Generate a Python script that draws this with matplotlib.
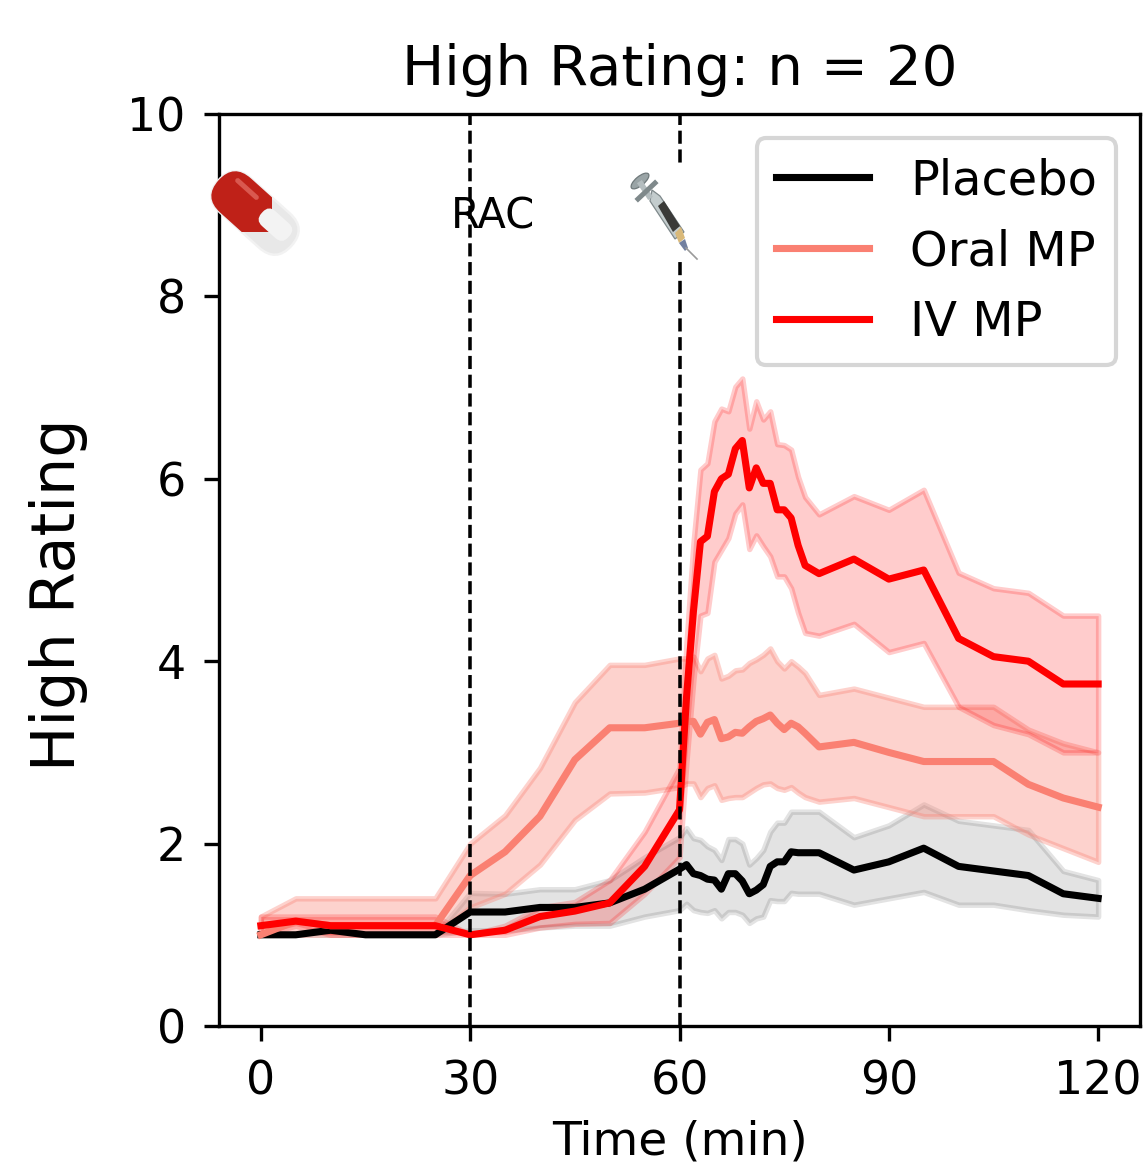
import numpy as np
import matplotlib
matplotlib.use('Agg')
import matplotlib.pyplot as plt
from matplotlib.patches import FancyBboxPatch, Rectangle, Polygon, Ellipse
from matplotlib.transforms import Affine2D

# time points (dense sampling after the IV dose)
time = [0, 5, 10, 15, 20, 25, 30, 35, 40, 45, 50, 55, 60,
        61, 62, 63, 64, 65, 66, 67, 68, 69, 70, 71, 72, 73, 74, 75, 76, 77, 78,
        80, 85, 90, 95, 100, 105, 110, 115, 120]

placebo = [1.0, 1.0, 1.05, 1.0, 1.0, 1.0, 1.25, 1.25, 1.3, 1.3, 1.35, 1.5, 1.72,
           1.77, 1.67, 1.65, 1.61, 1.6, 1.5, 1.67, 1.67, 1.59, 1.45, 1.49, 1.55, 1.75, 1.8, 1.8, 1.91, 1.9, 1.9,
           1.9, 1.71, 1.8, 1.95, 1.75, 1.7, 1.65, 1.45, 1.4]
placebo_hi = [1.0, 1.0, 1.1, 1.0, 1.0, 1.0, 1.46, 1.45, 1.5, 1.5, 1.6, 1.85, 2.07,
              2.17, 2.06, 2.04, 1.97, 1.93, 1.82, 2.05, 2.05, 2.0, 1.77, 1.84, 1.93, 2.13, 2.23, 2.23, 2.35, 2.35, 2.35,
              2.35, 2.07, 2.2, 2.43, 2.25, 2.2, 2.15, 1.7, 1.6]
placebo_lo = [1.0, 1.0, 1.0, 1.0, 1.0, 1.0, 1.05, 1.05, 1.08, 1.1, 1.1, 1.2, 1.27,
              1.34, 1.27, 1.25, 1.24, 1.27, 1.18, 1.25, 1.25, 1.22, 1.13, 1.18, 1.2, 1.38, 1.37, 1.37, 1.46, 1.45, 1.45,
              1.45, 1.33, 1.4, 1.47, 1.33, 1.33, 1.27, 1.22, 1.2]

oral = [1.0, 1.15, 1.1, 1.1, 1.1, 1.1, 1.65, 1.91, 2.3, 2.92, 3.27, 3.27, 3.32,
        3.34, 3.34, 3.2, 3.33, 3.36, 3.15, 3.17, 3.22, 3.21, 3.28, 3.34, 3.37, 3.41, 3.32, 3.25, 3.32, 3.28, 3.21,
        3.06, 3.11, 3.0, 2.9, 2.9, 2.9, 2.65, 2.5, 2.4]
oral_hi = [1.2, 1.4, 1.4, 1.4, 1.4, 1.4, 2.0, 2.31, 2.83, 3.55, 3.96, 3.96, 4.03,
           4.03, 4.05, 3.89, 4.03, 4.07, 3.81, 3.84, 3.9, 3.91, 3.98, 4.02, 4.07, 4.14, 4.0, 3.92, 4.0, 3.94, 3.87,
           3.63, 3.7, 3.6, 3.5, 3.5, 3.5, 3.25, 3.1, 3.0]
oral_lo = [1.0, 1.0, 1.0, 1.0, 1.0, 1.0, 1.3, 1.45, 1.77, 2.26, 2.55, 2.56, 2.62,
           2.66, 2.66, 2.51, 2.61, 2.64, 2.48, 2.5, 2.51, 2.51, 2.56, 2.61, 2.65, 2.66, 2.61, 2.59, 2.62, 2.56, 2.51,
           2.46, 2.5, 2.4, 2.3, 2.3, 2.3, 2.1, 1.95, 1.8]

iv = [1.1, 1.15, 1.1, 1.1, 1.1, 1.1, 1.0, 1.05, 1.2, 1.26, 1.35, 1.75, 2.37,
      3.6, 4.55, 5.31, 5.37, 5.86, 6.0, 6.05, 6.33, 6.42, 5.9, 6.12, 5.95, 5.95, 5.66, 5.66, 5.57, 5.27, 5.05,
      4.96, 5.12, 4.9, 5.0, 4.25, 4.05, 4.0, 3.75, 3.75]
iv_hi = [1.2, 1.2, 1.2, 1.2, 1.2, 1.2, 1.0, 1.1, 1.3, 1.36, 1.6, 2.13, 2.83,
         4.2, 5.3, 6.1, 6.17, 6.63, 6.77, 6.74, 7.01, 7.1, 6.55, 6.85, 6.65, 6.74, 6.38, 6.37, 6.32, 6.02, 5.8,
         5.61, 5.81, 5.66, 5.88, 4.97, 4.8, 4.75, 4.5, 4.5]
iv_lo = [1.0, 1.1, 1.0, 1.0, 1.0, 1.0, 1.0, 1.0, 1.08, 1.12, 1.13, 1.45, 1.85,
         2.9, 3.8, 4.5, 4.53, 5.09, 5.22, 5.35, 5.62, 5.72, 5.23, 5.38, 5.26, 5.15, 4.93, 4.93, 4.8, 4.53, 4.31,
         4.28, 4.41, 4.1, 4.2, 3.5, 3.3, 3.2, 3.0, 3.0]

x_ticks = [0, 30, 60, 90, 120]
y_ticks = [0, 2, 4, 6, 8, 10]
dose_times = [30, 60]

fig = plt.figure(figsize=(1145 / 300, 1166 / 300), dpi=300)
ax = fig.add_axes([219 / 1145, 1 - 1026 / 1166, 921 / 1145, 912 / 1166])

ax.fill_between(time, placebo_lo, placebo_hi, color='black', alpha=0.11, lw=1.3)
ax.fill_between(time, oral_lo, oral_hi, color='salmon', alpha=0.35, lw=1.3)
ax.fill_between(time, iv_lo, iv_hi, color='red', alpha=0.2, lw=1.3)
ax.plot(time, placebo, color='black', lw=1.7, label='Placebo')
ax.plot(time, oral, color='salmon', lw=1.7, label='Oral MP')
ax.plot(time, iv, color='red', lw=1.7, label='IV MP')
for t in dose_times:
    ax.axvline(t, color='black', ls='--', lw=0.85)

ax.set_xlim(-6, 126)
ax.set_ylim(0, 10)
ax.set_xticks(x_ticks)
ax.set_yticks(y_ticks)
ax.tick_params(labelsize=11, pad=4.5)
ax.set_title('High Rating: n = 20', fontsize=13.5, pad=7)
ax.set_xlabel('Time (min)', fontsize=11.3, labelpad=3.6)
ax.set_ylabel('High Rating', fontsize=14.5)
ax.yaxis.set_label_coords(-0.142, 0.473)
ax.legend(loc='upper right', fontsize=11.5, handlelength=1.95, handletextpad=0.85)
ax.text(33.2, 8.88, 'RAC', fontsize=10, ha='center', va='center')

# overlay in pixel coordinates for the two icons
ov = fig.add_axes([0, 0, 1, 1], zorder=5)
ov.set_xlim(0, 1145)
ov.set_ylim(1166, 0)
ov.axis('off')

# pill
rot = Affine2D().rotate_deg_around(255, 213, 42) + ov.transData
body = FancyBboxPatch((206, 190), 98, 46, boxstyle='round,pad=0,rounding_size=23',
                      fc='#e8e8e8', ec='#f2f2f2', lw=0.6, transform=rot)
ov.add_patch(body)
red = FancyBboxPatch((206, 190), 98, 46, boxstyle='round,pad=0,rounding_size=23',
                     fc='#bf2118', ec='none', transform=rot)
ov.add_patch(red)
red.set_clip_path(Rectangle((205, 185), 48, 56, transform=rot))
ov.add_patch(FancyBboxPatch((218, 198), 30, 5, boxstyle='round,pad=0,rounding_size=2.5',
                            fc='#d9584f', ec='none', transform=rot))
ov.add_patch(FancyBboxPatch((260, 198), 36, 20, boxstyle='round,pad=0,rounding_size=9',
                            fc='#f3f3f3', ec='none', transform=rot))

# syringe, with the white box the icon sits on
ov.add_patch(Rectangle((630, 166), 67, 92, fc='white', ec='none'))
ov.add_patch(Ellipse((640, 181), 22, 9, angle=-40, fc='#9aa4a6', ec='#6f797b', lw=0.3))
ov.plot([641, 649], [184, 196], color='#b4bdbf', lw=1.4)
ov.plot([638, 655], [199, 183], color='#7f898b', lw=1.2)
ov.add_patch(Polygon([[652, 190], [660, 196], [684, 232], [675, 239], [650, 201]],
                     fc='#c3cccd', ec='#7f898b', lw=0.3))
ov.add_patch(Polygon([[658, 206], [664, 201], [680, 226], [673, 232]], fc='#3a3a38', ec='none'))
ov.add_patch(Polygon([[675, 233], [681, 227], [685, 238], [679, 243]], fc='#d9b97a', ec='none'))
ov.add_patch(Polygon([[679, 243], [685, 239], [688, 248], [685, 251]], fc='#7280a0', ec='none'))
ov.plot([686, 697], [248, 259], color='#9a9a9a', lw=0.4)

fig.savefig('out.png', dpi=300)
